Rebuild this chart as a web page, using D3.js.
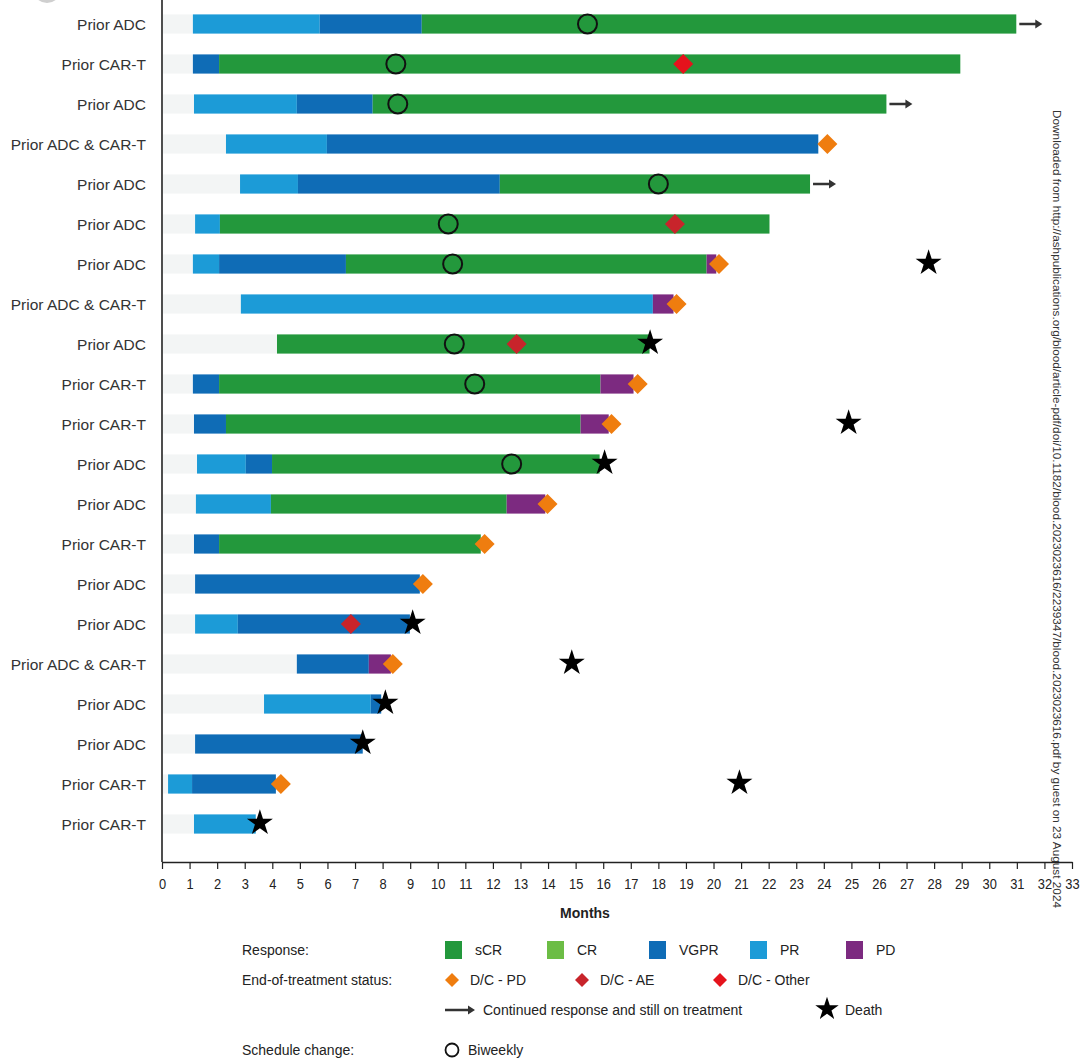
<!DOCTYPE html>
<html><head><meta charset="utf-8">
<script src="https://cdn.jsdelivr.net/npm/d3@7"></script>
<style>body{margin:0;background:#fff;} svg{display:block;font-family:"Liberation Sans",Arial,sans-serif;}</style>
</head><body>
<svg id="c" width="1080" height="1059"></svg>
<script>
// ---------- data ----------
const rowLabels = ["Prior ADC","Prior CAR-T","Prior ADC","Prior ADC & CAR-T","Prior ADC","Prior ADC","Prior ADC",
  "Prior ADC & CAR-T","Prior ADC","Prior CAR-T","Prior CAR-T","Prior ADC","Prior ADC","Prior CAR-T","Prior ADC",
  "Prior ADC","Prior ADC & CAR-T","Prior ADC","Prior ADC","Prior CAR-T","Prior CAR-T"];
// month at which treatment (coloured bar) starts
const startMonths = [1.12,1.12,1.16,2.32,2.83,1.2,1.12,2.86,4.17,1.12,1.16,1.27,1.23,1.16,1.2,1.2,4.89,3.7,1.2,0.22,1.16];
// response segments per row: [response, end month]
const segments = [
  [["PR",5.72],["VGPR",9.42],["sCR",30.98]],
  [["VGPR",2.07],["sCR",28.95]],
  [["PR",4.89],["VGPR",7.64],["sCR",26.27]],
  [["PR",5.98],["VGPR",23.8]],
  [["PR",4.93],["VGPR",12.25],["sCR",23.5]],
  [["PR",2.1],["sCR",22.03]],
  [["PR",2.07],["VGPR",6.67],["sCR",19.75],["PD",20.1]],
  [["PR",17.8],["PD",18.55]],
  [["sCR",17.68]],
  [["VGPR",2.07],["sCR",15.9],["PD",17.1]],
  [["VGPR",2.32],["sCR",15.18],["PD",16.2]],
  [["PR",3.04],["VGPR",3.99],["sCR",15.87]],
  [["PR",3.95],["sCR",12.5],["PD",13.9]],
  [["VGPR",2.07],["sCR",11.56]],
  [["VGPR",9.35]],
  [["PR",2.75],["VGPR",8.99]],
  [["VGPR",7.5],["PD",8.3]],
  [["PR",7.57],["VGPR",7.95]],
  [["VGPR",7.28]],
  [["PR",1.09],["VGPR",4.13]],
  [["PR",3.4]]
];
// end-of-treatment diamonds: [row, type, month]
const endStatus = [[1,"Other",18.9],[3,"PD",24.13],[5,"AE",18.6],[6,"PD",20.2],[7,"PD",18.66],[8,"AE",12.86],
  [9,"PD",17.25],[10,"PD",16.3],[12,"PD",13.98],[13,"PD",11.7],[14,"PD",9.46],[15,"AE",6.85],[16,"PD",8.37],[19,"PD",4.31]];
// continued response arrows: [row, month]
const arrows = [[0,30.98],[2,26.27],[4,23.5]];
// deaths: [row, month]
const deaths = [[6,27.8],[8,17.7],[10,24.9],[11,16.05],[15,9.09],[16,14.86],[17,8.1],[18,7.28],[19,20.94],[20,3.55]];
// biweekly schedule change: [row, month]
const biweekly = [[0,15.43],[1,8.48],[2,8.55],[4,18.0],[5,10.38],[6,10.54],[8,10.6],[9,11.34],[11,12.68]];
const xTicks = d3.range(0,34);
const responseKeys = ["sCR","CR","VGPR","PR","PD"];
const statusKeys = ["PD","AE","Other"];
const statusLabels = ["D/C - PD","D/C - AE","D/C - Other"];

// ---------- styles ----------
const respColor = {sCR:"#23983c", CR:"#6cbd45", VGPR:"#0f6cb6", PR:"#1c9bd7", PD:"#7c2a80"};
const statColor = {PD:"#ef7d0f", AE:"#c8242b", Other:"#e5131c"};

const svg = d3.select("#c");
const x = d3.scaleLinear().domain([0,33]).range([162,1072]);
const y = d3.scaleBand().domain(d3.range(rowLabels.length)).range([4,844]).paddingInner(0.52).paddingOuter(0.26);
const bh = y.bandwidth();
const cy = i => y(i) + bh/2;

// faint corner mark
svg.append("circle").attr("cx",47).attr("cy",-11).attr("r",14).attr("fill","#cfcfcf");

// pre-treatment light background
svg.append("g").selectAll("rect").data(startMonths).join("rect")
  .attr("x", x(0)+1).attr("y",(d,i)=>y(i)).attr("height",bh)
  .attr("width", d => x(d)-x(0)-1).attr("fill","#f3f5f5");

// response bars
const segG = svg.append("g");
segments.forEach((segs,i)=>{
  let s = startMonths[i];
  segs.forEach(([k,e])=>{
    segG.append("rect").attr("x",x(s)).attr("y",y(i)).attr("height",bh)
      .attr("width",x(e)-x(s)).attr("fill",respColor[k]);
    s = e;
  });
});

// y axis line & labels
svg.append("line").attr("x1",162).attr("x2",162).attr("y1",0).attr("y2",862).attr("stroke","#222").attr("stroke-width",1.6);
svg.append("g").selectAll("text").data(rowLabels).join("text")
  .attr("x",146).attr("y",(d,i)=>cy(i)).attr("dy","0.36em").attr("text-anchor","end")
  .attr("font-size",15.5).attr("fill","#333").text(d=>d);

// x axis
const xa = svg.append("g").attr("transform","translate(0,862)")
  .call(d3.axisBottom(x).tickValues(xTicks).tickSize(7).tickSizeOuter(0).tickPadding(10).tickFormat(d3.format("d")));
xa.select(".domain").attr("stroke","#222").attr("stroke-width",1.6);
xa.selectAll(".tick line").attr("stroke","#222").attr("stroke-width",1.2);
xa.selectAll(".tick text").attr("font-size",14).attr("fill","#222").attr("font-family","Liberation Sans, Arial")
  .attr("transform","scale(0.92,1)").attr("dy","0.71em");
svg.append("text").attr("x",585).attr("y",918).attr("text-anchor","middle").attr("font-size",14)
  .attr("font-weight","bold").attr("fill","#222").text("Months");

// symbols
const diamond = (cx,cyy,r)=>`M${cx},${cyy-r}L${cx+r},${cyy}L${cx},${cyy+r}L${cx-r},${cyy}Z`;
svg.append("g").selectAll("path").data(endStatus).join("path")
  .attr("d",d=>diamond(x(d[2]),cy(d[0]),10)).attr("fill",d=>statColor[d[1]]);

svg.append("g").selectAll("circle").data(biweekly).join("circle")
  .attr("cx",d=>x(d[1])).attr("cy",d=>cy(d[0])).attr("r",9.5)
  .attr("fill","none").attr("stroke","#111").attr("stroke-width",2);

const star = d3.symbol().type(d3.symbolStar);
svg.append("g").selectAll("path").data(deaths).join("path")
  .attr("transform",d=>`translate(${x(d[1])},${cy(d[0])-1})`)
  .attr("d",star.size(210)()).attr("fill","#000");

const arrowPath = (x0,yy,len)=>`M${x0},${yy-1.2}L${x0+len-7},${yy-1.2}L${x0+len-7},${yy-4.5}L${x0+len},${yy}L${x0+len-7},${yy+4.5}L${x0+len-7},${yy+1.2}L${x0},${yy+1.2}Z`;
svg.append("g").selectAll("path").data(arrows).join("path")
  .attr("d",d=>arrowPath(x(d[1])+3,cy(d[0]),23)).attr("fill","#333");

// watermark
svg.append("text").attr("transform","translate(1053,110) rotate(90)").attr("font-size",11.5).attr("fill","#333")
  .attr("textLength",798).attr("lengthAdjust","spacingAndGlyphs")
  .text("Downloaded from http://ashpublications.org/blood/article-pdf/doi/10.1182/blood.2023023616/2239347/blood.2023023616.pdf by guest on 23 August 2024");

// legend
const L = svg.append("g").attr("font-size",14).attr("fill","#222");
const lt = (t,xx,yy)=>L.append("text").attr("x",xx).attr("y",yy).attr("dy","0.35em").attr("fill","#222").text(t);
lt("Response:",242,950); lt("End-of-treatment status:",242,980); lt("Schedule change:",242,1050);
const swX = [445,547,649,750,846];
responseKeys.forEach((k,i)=>{
  L.append("rect").attr("x",swX[i]).attr("y",941).attr("width",17).attr("height",18).attr("fill",respColor[k]);
  lt(k,swX[i]+30,950);
});
const dX = [452,582,720];
statusKeys.forEach((k,i)=>{
  L.append("path").attr("d",diamond(dX[i],980,7)).attr("fill",statColor[k]);
  lt(statusLabels[i],dX[i]+18,980);
});
L.append("path").attr("d",arrowPath(445,1010,30)).attr("fill","#333");
lt("Continued response and still on treatment",483,1010);
L.append("path").attr("transform","translate(827,1009)").attr("d",d3.symbol().type(d3.symbolStar).size(170)()).attr("fill","#000");
lt("Death",845,1010);
L.append("circle").attr("cx",452).attr("cy",1050).attr("r",6.5).attr("fill","none").attr("stroke","#111").attr("stroke-width",1.8);
lt("Biweekly",468,1050);
</script>
</body></html>
